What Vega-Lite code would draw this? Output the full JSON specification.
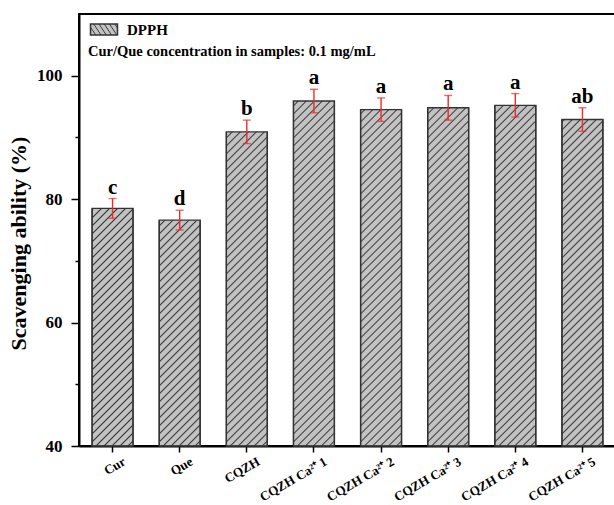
{
  "$schema": "https://vega.github.io/schema/vega-lite/v6.json",
  "width": 537,
  "height": 432,
  "autosize": {"type": "none"},
  "padding": {"left": 79, "top": 14, "right": 0, "bottom": 59},
  "background": "white",
  "config": {
    "view": {"stroke": "#000000", "strokeWidth": 2},
    "axis": {"domainColor": "#000000", "domainWidth": 2, "tickColor": "#000000", "tickWidth": 1.5, "labelColor": "#000000", "labelFont": "Liberation Serif", "labelFontWeight": "bold", "titleFont": "Liberation Serif", "titleFontWeight": "bold", "titleColor": "#000000", "grid": false}
  },
  "title": {"text": "Cur/Que concentration in samples: 0.1 mg/mL", "anchor": "start", "frame": "group", "orient": "top", "offset": 0, "dx": 9, "dy": 56, "baseline": "alphabetic", "font": "Liberation Serif", "fontSize": 14.5, "fontWeight": "bold", "color": "#000000"},
  "data": {"values": [
    {"sample": "Cur", "mean": 78.5, "err": 1.6, "hi": 80.1, "sig": "c"},
    {"sample": "Que", "mean": 76.6, "err": 1.6, "hi": 78.2, "sig": "d"},
    {"sample": "CQZH", "mean": 90.9, "err": 1.9, "hi": 92.8, "sig": "b"},
    {"sample": "CQZH Ca²⁺ 1", "mean": 95.9, "err": 1.9, "hi": 97.8, "sig": "a"},
    {"sample": "CQZH Ca²⁺ 2", "mean": 94.5, "err": 1.9, "hi": 96.4, "sig": "a"},
    {"sample": "CQZH Ca²⁺ 3", "mean": 94.8, "err": 2.0, "hi": 96.8, "sig": "a"},
    {"sample": "CQZH Ca²⁺ 4", "mean": 95.2, "err": 1.9, "hi": 97.1, "sig": "a"},
    {"sample": "CQZH Ca²⁺ 5", "mean": 92.9, "err": 1.9, "hi": 94.8, "sig": "ab"}
  ]},
  "encoding": {
    "x": {"field": "sample", "type": "nominal", "sort": null,
      "scale": {"paddingInner": 0.39, "paddingOuter": 0.195},
      "axis": {"title": null, "labelAngle": -30, "labelAlign": "right", "labelBaseline": "top", "labelFontSize": 13, "labelOffset": 9, "labelPadding": 3, "tickSize": 6}}
  },
  "layer": [
    {
      "mark": {"type": "bar", "strokeWidth": 1.2, "fill": {"gradient": "linear", "x1": 0, "y1": 0.0545, "x2": 0.1059, "y2": 1.1635, "stops": [
        {"offset":0,"color":"#c2c2c2"},{"offset":0.003,"color":"#383838"},{"offset":0.006,"color":"#c2c2c2"},
        {"offset":0.0167,"color":"#c2c2c2"},{"offset":0.0197,"color":"#383838"},{"offset":0.0227,"color":"#c2c2c2"},
        {"offset":0.0333,"color":"#c2c2c2"},{"offset":0.0363,"color":"#383838"},{"offset":0.0393,"color":"#c2c2c2"},
        {"offset":0.05,"color":"#c2c2c2"},{"offset":0.053,"color":"#383838"},{"offset":0.056,"color":"#c2c2c2"},
        {"offset":0.0667,"color":"#c2c2c2"},{"offset":0.0697,"color":"#383838"},{"offset":0.0727,"color":"#c2c2c2"},
        {"offset":0.0833,"color":"#c2c2c2"},{"offset":0.0863,"color":"#383838"},{"offset":0.0893,"color":"#c2c2c2"},
        {"offset":0.1,"color":"#c2c2c2"},{"offset":0.103,"color":"#383838"},{"offset":0.106,"color":"#c2c2c2"},
        {"offset":0.1167,"color":"#c2c2c2"},{"offset":0.1197,"color":"#383838"},{"offset":0.1227,"color":"#c2c2c2"},
        {"offset":0.1333,"color":"#c2c2c2"},{"offset":0.1363,"color":"#383838"},{"offset":0.1393,"color":"#c2c2c2"},
        {"offset":0.15,"color":"#c2c2c2"},{"offset":0.153,"color":"#383838"},{"offset":0.156,"color":"#c2c2c2"},
        {"offset":0.1667,"color":"#c2c2c2"},{"offset":0.1697,"color":"#383838"},{"offset":0.1727,"color":"#c2c2c2"},
        {"offset":0.1833,"color":"#c2c2c2"},{"offset":0.1863,"color":"#383838"},{"offset":0.1893,"color":"#c2c2c2"},
        {"offset":0.2,"color":"#c2c2c2"},{"offset":0.203,"color":"#383838"},{"offset":0.206,"color":"#c2c2c2"},
        {"offset":0.2167,"color":"#c2c2c2"},{"offset":0.2197,"color":"#383838"},{"offset":0.2227,"color":"#c2c2c2"},
        {"offset":0.2333,"color":"#c2c2c2"},{"offset":0.2363,"color":"#383838"},{"offset":0.2393,"color":"#c2c2c2"},
        {"offset":0.25,"color":"#c2c2c2"},{"offset":0.253,"color":"#383838"},{"offset":0.256,"color":"#c2c2c2"},
        {"offset":0.2667,"color":"#c2c2c2"},{"offset":0.2697,"color":"#383838"},{"offset":0.2727,"color":"#c2c2c2"},
        {"offset":0.2833,"color":"#c2c2c2"},{"offset":0.2863,"color":"#383838"},{"offset":0.2893,"color":"#c2c2c2"},
        {"offset":0.3,"color":"#c2c2c2"},{"offset":0.303,"color":"#383838"},{"offset":0.306,"color":"#c2c2c2"},
        {"offset":0.3167,"color":"#c2c2c2"},{"offset":0.3197,"color":"#383838"},{"offset":0.3227,"color":"#c2c2c2"},
        {"offset":0.3333,"color":"#c2c2c2"},{"offset":0.3363,"color":"#383838"},{"offset":0.3393,"color":"#c2c2c2"},
        {"offset":0.35,"color":"#c2c2c2"},{"offset":0.353,"color":"#383838"},{"offset":0.356,"color":"#c2c2c2"},
        {"offset":0.3667,"color":"#c2c2c2"},{"offset":0.3697,"color":"#383838"},{"offset":0.3727,"color":"#c2c2c2"},
        {"offset":0.3833,"color":"#c2c2c2"},{"offset":0.3863,"color":"#383838"},{"offset":0.3893,"color":"#c2c2c2"},
        {"offset":0.4,"color":"#c2c2c2"},{"offset":0.403,"color":"#383838"},{"offset":0.406,"color":"#c2c2c2"},
        {"offset":0.4167,"color":"#c2c2c2"},{"offset":0.4197,"color":"#383838"},{"offset":0.4227,"color":"#c2c2c2"},
        {"offset":0.4333,"color":"#c2c2c2"},{"offset":0.4363,"color":"#383838"},{"offset":0.4393,"color":"#c2c2c2"},
        {"offset":0.45,"color":"#c2c2c2"},{"offset":0.453,"color":"#383838"},{"offset":0.456,"color":"#c2c2c2"},
        {"offset":0.4667,"color":"#c2c2c2"},{"offset":0.4697,"color":"#383838"},{"offset":0.4727,"color":"#c2c2c2"},
        {"offset":0.4833,"color":"#c2c2c2"},{"offset":0.4863,"color":"#383838"},{"offset":0.4893,"color":"#c2c2c2"},
        {"offset":0.5,"color":"#c2c2c2"},{"offset":0.503,"color":"#383838"},{"offset":0.506,"color":"#c2c2c2"},
        {"offset":0.5167,"color":"#c2c2c2"},{"offset":0.5197,"color":"#383838"},{"offset":0.5227,"color":"#c2c2c2"},
        {"offset":0.5333,"color":"#c2c2c2"},{"offset":0.5363,"color":"#383838"},{"offset":0.5393,"color":"#c2c2c2"},
        {"offset":0.55,"color":"#c2c2c2"},{"offset":0.553,"color":"#383838"},{"offset":0.556,"color":"#c2c2c2"},
        {"offset":0.5667,"color":"#c2c2c2"},{"offset":0.5697,"color":"#383838"},{"offset":0.5727,"color":"#c2c2c2"},
        {"offset":0.5833,"color":"#c2c2c2"},{"offset":0.5863,"color":"#383838"},{"offset":0.5893,"color":"#c2c2c2"},
        {"offset":0.6,"color":"#c2c2c2"},{"offset":0.603,"color":"#383838"},{"offset":0.606,"color":"#c2c2c2"},
        {"offset":0.6167,"color":"#c2c2c2"},{"offset":0.6197,"color":"#383838"},{"offset":0.6227,"color":"#c2c2c2"},
        {"offset":0.6333,"color":"#c2c2c2"},{"offset":0.6363,"color":"#383838"},{"offset":0.6393,"color":"#c2c2c2"},
        {"offset":0.65,"color":"#c2c2c2"},{"offset":0.653,"color":"#383838"},{"offset":0.656,"color":"#c2c2c2"},
        {"offset":0.6667,"color":"#c2c2c2"},{"offset":0.6697,"color":"#383838"},{"offset":0.6727,"color":"#c2c2c2"},
        {"offset":0.6833,"color":"#c2c2c2"},{"offset":0.6863,"color":"#383838"},{"offset":0.6893,"color":"#c2c2c2"},
        {"offset":0.7,"color":"#c2c2c2"},{"offset":0.703,"color":"#383838"},{"offset":0.706,"color":"#c2c2c2"},
        {"offset":0.7167,"color":"#c2c2c2"},{"offset":0.7197,"color":"#383838"},{"offset":0.7227,"color":"#c2c2c2"},
        {"offset":0.7333,"color":"#c2c2c2"},{"offset":0.7363,"color":"#383838"},{"offset":0.7393,"color":"#c2c2c2"},
        {"offset":0.75,"color":"#c2c2c2"},{"offset":0.753,"color":"#383838"},{"offset":0.756,"color":"#c2c2c2"},
        {"offset":0.7667,"color":"#c2c2c2"},{"offset":0.7697,"color":"#383838"},{"offset":0.7727,"color":"#c2c2c2"},
        {"offset":0.7833,"color":"#c2c2c2"},{"offset":0.7863,"color":"#383838"},{"offset":0.7893,"color":"#c2c2c2"},
        {"offset":0.8,"color":"#c2c2c2"},{"offset":0.803,"color":"#383838"},{"offset":0.806,"color":"#c2c2c2"},
        {"offset":0.8167,"color":"#c2c2c2"},{"offset":0.8197,"color":"#383838"},{"offset":0.8227,"color":"#c2c2c2"},
        {"offset":0.8333,"color":"#c2c2c2"},{"offset":0.8363,"color":"#383838"},{"offset":0.8393,"color":"#c2c2c2"},
        {"offset":0.85,"color":"#c2c2c2"},{"offset":0.853,"color":"#383838"},{"offset":0.856,"color":"#c2c2c2"},
        {"offset":0.8667,"color":"#c2c2c2"},{"offset":0.8697,"color":"#383838"},{"offset":0.8727,"color":"#c2c2c2"},
        {"offset":0.8833,"color":"#c2c2c2"},{"offset":0.8863,"color":"#383838"},{"offset":0.8893,"color":"#c2c2c2"},
        {"offset":0.9,"color":"#c2c2c2"},{"offset":0.903,"color":"#383838"},{"offset":0.906,"color":"#c2c2c2"},
        {"offset":0.9167,"color":"#c2c2c2"},{"offset":0.9197,"color":"#383838"},{"offset":0.9227,"color":"#c2c2c2"},
        {"offset":0.9333,"color":"#c2c2c2"},{"offset":0.9363,"color":"#383838"},{"offset":0.9393,"color":"#c2c2c2"},
        {"offset":0.95,"color":"#c2c2c2"},{"offset":0.953,"color":"#383838"},{"offset":0.956,"color":"#c2c2c2"},
        {"offset":0.9667,"color":"#c2c2c2"},{"offset":0.9697,"color":"#383838"},{"offset":0.9727,"color":"#c2c2c2"},
        {"offset":0.9833,"color":"#c2c2c2"},{"offset":0.9863,"color":"#383838"},{"offset":0.9893,"color":"#c2c2c2"},
        {"offset":1,"color":"#c2c2c2"}
      ]}},
      "encoding": {
        "y": {"datum": 40, "type": "quantitative", "title": "Scavenging ability (%)", "scale": {"domain": [40, 110], "zero": false, "nice": false}},
        "y2": {"datum": 109.5},
        "stroke": {"datum": "DPPH", "type": "nominal", "scale": {"range": ["#333333"]},
          "legend": {"orient": "none", "legendX": 14, "legendY": 4.5, "title": null, "symbolType": "M-1.35,-0.55H1.35V0.55H-1.35Z", "symbolSize": 400, "labelOffset": 12, "labelFont": "Liberation Serif", "labelFontSize": 15, "labelFontWeight": "bold", "labelColor": "#000000", "padding": 0}}
      }
    },
    {
      "mark": {"type": "bar", "fill": "white", "width": {"band": 1.08}},
      "encoding": {
        "y": {"field": "mean", "type": "quantitative", "title": "Scavenging ability (%)"},
        "y2": {"datum": 109.7}
      }
    },
    {
      "mark": {"type": "bar", "fill": "transparent", "stroke": "#333333", "strokeWidth": 1.4},
      "encoding": {
        "y": {"field": "mean", "type": "quantitative", "title": "Scavenging ability (%)",
          "axis": {"titleFontSize": 22, "titlePadding": 6, "titleY": 229, "values": [40, 50, 60, 70, 80, 90, 100], "labelExpr": "datum.value % 20 === 0 ? datum.label : ''", "labelFontSize": 17, "labelPadding": 9, "tickSize": {"condition": {"test": "datum.value % 20 === 0", "value": 8}, "value": 4}}},
        "y2": {"datum": 40}
      }
    },
    {
      "mark": {"type": "errorbar", "color": "#ee2a2a", "thickness": 1.4, "ticks": {"size": 8, "thickness": 1.4}},
      "encoding": {
        "y": {"field": "mean", "type": "quantitative", "title": "Scavenging ability (%)"},
        "yError": {"field": "err"}
      }
    },
    {
      "mark": {"type": "text", "font": "Liberation Serif", "fontWeight": "bold", "fontSize": 21, "baseline": "alphabetic", "dy": -5, "color": "#000000"},
      "encoding": {
        "y": {"field": "hi", "type": "quantitative", "title": "Scavenging ability (%)"},
        "text": {"field": "sig"}
      }
    }
  ]
}
